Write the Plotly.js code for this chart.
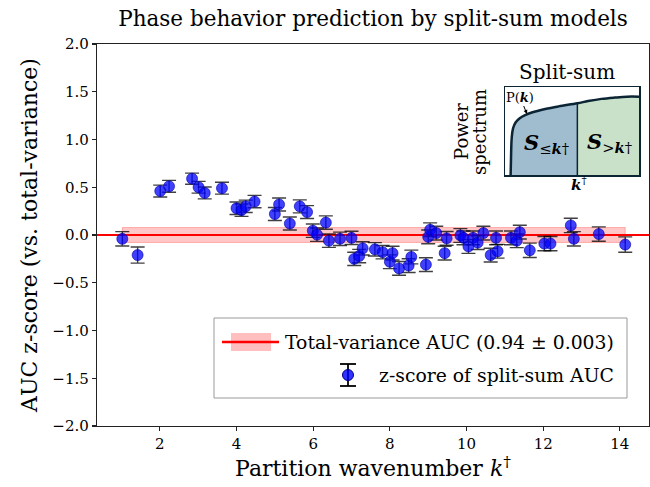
<!DOCTYPE html>
<html>
<head>
<meta charset="utf-8">
<script src="https://cdn.plot.ly/plotly-3.0.1.min.js"></script>
<style>html,body{margin:0;padding:0;background:#fff;}#chart{width:650px;height:487px;}</style>
</head>
<body>
<div id="chart"></div>
<script>
// ---- data ----
const partitionK = [1.02,1.42,2.01,2.24,2.84,3.01,3.17,3.62,4.00,4.13,4.24,4.47,5.00,5.11,5.39,5.65,5.84,5.99,6.10,6.33,6.41,6.70,7.00,7.07,7.20,7.29,7.61,7.81,8.00,8.07,8.24,8.49,8.56,8.94,9.00,9.05,9.21,9.43,9.48,9.84,9.92,10.05,10.17,10.29,10.44,10.63,10.77,10.81,11.16,11.31,11.39,11.65,12.03,12.19,12.72,12.80,13.45,14.14];
const zScore = [-0.04,-0.21,0.46,0.51,0.59,0.50,0.44,0.49,0.28,0.26,0.30,0.35,0.22,0.32,0.12,0.30,0.24,0.045,0.003,0.13,-0.06,-0.04,-0.03,-0.25,-0.22,-0.14,-0.15,-0.18,-0.28,-0.19,-0.35,-0.32,-0.23,-0.31,-0.02,0.055,0.02,-0.19,-0.035,-0.005,-0.03,-0.12,-0.03,-0.08,0.02,-0.21,-0.03,-0.17,-0.03,-0.06,0.03,-0.16,-0.09,-0.09,0.10,-0.04,0.01,-0.10];
const zErr = [0.075,0.084,0.062,0.062,0.058,0.062,0.062,0.062,0.065,0.065,0.065,0.065,0.068,0.068,0.068,0.068,0.068,0.07,0.07,0.07,0.07,0.07,0.07,0.07,0.07,0.07,0.07,0.07,0.072,0.072,0.072,0.072,0.072,0.072,0.072,0.072,0.072,0.072,0.072,0.072,0.072,0.072,0.072,0.072,0.072,0.072,0.072,0.072,0.072,0.072,0.072,0.075,0.075,0.075,0.075,0.075,0.075,0.08];
const baselineZ = 0.0;
const baselineBand = 0.078;
const xTicks = [2,4,6,8,10,12,14];
const yTicks = [-2.0,-1.5,-1.0,-0.5,0.0,0.5,1.0,1.5,2.0];
const legendLabels = ["Total-variance AUC (0.94 \u00b1 0.003)", "z-score of split-sum AUC"];
// inset schematic: power spectrum P(k) vs k
const insetK = [0.042,0.045,0.05,0.06,0.08,0.11,0.15,0.2,0.3,0.4,0.54,0.62,0.72,0.82,0.91,1.0];
const insetP = [0.0,0.2,0.42,0.53,0.6,0.645,0.68,0.71,0.75,0.78,0.815,0.84,0.865,0.88,0.89,0.89];
const insetSplit = 0.54;

// ---- layout helpers (pixel -> paper) ----
const W = 650, H = 487, L = 97, R = 649, T = 44, B = 426;
const px = x => (x - L) / (R - L);
const py = y => (B - y) / (B - T);
const serif = "DejaVu Serif, Liberation Serif, serif";
const xMin = Math.min(...partitionK), xMax = Math.max(...partitionK);

const splitIdx = insetK.indexOf(insetSplit);
const traces = [
  { x: [xMin, xMax, xMax, xMin, xMin],
    y: [baselineZ-baselineBand, baselineZ-baselineBand, baselineZ+baselineBand, baselineZ+baselineBand, baselineZ-baselineBand],
    mode: 'lines', fill: 'toself', fillcolor: 'rgba(255,0,0,0.22)',
    line: {color: 'rgba(255,0,0,0.25)', width: 1}, hoverinfo: 'skip', showlegend: false },
  { x: [0.36, 14.76], y: [baselineZ, baselineZ], mode: 'lines',
    line: {color: '#ff0000', width: 2}, showlegend: false },
  { x: partitionK, y: zScore, mode: 'markers', showlegend: false,
    marker: {size: 11, color: 'rgba(0,0,255,0.75)', line: {color: 'rgba(0,0,160,0.6)', width: 1}},
    error_y: {type: 'data', array: zErr, visible: true, color: 'rgba(0,0,0,0.75)', thickness: 1.4, width: 7} },
  // inset
  { x: insetK.slice(0, splitIdx+1), y: insetP.slice(0, splitIdx+1), xaxis: 'x2', yaxis: 'y2',
    mode: 'lines', fill: 'tozeroy', fillcolor: '#9fbdcf', line: {width: 0}, showlegend: false },
  { x: insetK.slice(splitIdx), y: insetP.slice(splitIdx), xaxis: 'x2', yaxis: 'y2',
    mode: 'lines', fill: 'tozeroy', fillcolor: '#c9e1c9', line: {width: 0}, showlegend: false },
  { x: [insetSplit, insetSplit], y: [0, insetP[splitIdx]], xaxis: 'x2', yaxis: 'y2',
    mode: 'lines', line: {color: '#0b2535', width: 1.5}, showlegend: false },
  { x: insetK, y: insetP, xaxis: 'x2', yaxis: 'y2', mode: 'lines',
    line: {color: '#0b2535', width: 2.5, shape: 'spline'}, showlegend: false }
];

const ink = '#222';
const shapes = [
  // legend box
  {type: 'rect', xref: 'paper', yref: 'paper', x0: px(214), x1: px(627), y0: py(398), y1: py(318),
   line: {color: '#999', width: 1}, fillcolor: 'rgba(255,255,255,0.9)', layer: 'above'},
  {type: 'rect', xref: 'paper', yref: 'paper', x0: px(231), x1: px(271), y0: py(351), y1: py(333),
   line: {width: 0}, fillcolor: 'rgba(255,0,0,0.25)', layer: 'above'},
  {type: 'line', xref: 'paper', yref: 'paper', x0: px(222), x1: px(279), y0: py(342), y1: py(342),
   line: {color: '#ff0000', width: 2.5}, layer: 'above'},
  {type: 'line', xref: 'paper', yref: 'paper', x0: px(348), x1: px(348), y0: py(364), y1: py(386),
   line: {color: '#000', width: 1.8}, layer: 'above'},
  {type: 'line', xref: 'paper', yref: 'paper', x0: px(340), x1: px(356), y0: py(364), y1: py(364),
   line: {color: '#000', width: 1.8}, layer: 'above'},
  {type: 'line', xref: 'paper', yref: 'paper', x0: px(340), x1: px(356), y0: py(386), y1: py(386),
   line: {color: '#000', width: 1.8}, layer: 'above'},
  {type: 'circle', xref: 'paper', yref: 'paper', x0: px(342.5), x1: px(353.5), y0: py(380.5), y1: py(369.5),
   line: {color: '#000080', width: 1}, fillcolor: 'rgba(0,0,255,0.8)', layer: 'above'}
];

const ann = (x, y, text, size, extra) => Object.assign({xref: 'paper', yref: 'paper', x: px(x), y: py(y), text: text,
  showarrow: false, font: {family: serif, size: size, color: '#000'}, xanchor: 'center', yanchor: 'middle'}, extra || {});

const annotations = [
  ann(283, 342, legendLabels[0], 18.8, {xanchor: 'left'}),
  ann(377, 375, legendLabels[1], 18.8, {xanchor: 'left'}),
  ann(567, 72, 'Split-sum', 20),
  ann(461, 132, 'Power', 18, {textangle: -90}),
  ann(479, 132, 'spectrum', 18, {textangle: -90}),
  ann(546, 143, '<b><i>S</i></b><sub>\u2264<b><i>k</i></b>\u2020</sub>', 21),
  ann(609, 142, '<b><i>S</i></b><sub>&gt;<b><i>k</i></b>\u2020</sub>', 21),
  ann(579, 184, '<b><i>k</i></b><sup>\u2020</sup>', 15),
  {xref: 'paper', yref: 'paper', x: px(527), y: py(114), ax: -7, ay: -17, text: 'P(<b><i>k</i></b>)',
   showarrow: true, arrowhead: 2, arrowsize: 0.8, arrowwidth: 1, arrowcolor: '#000',
   font: {family: serif, size: 13, color: '#000'}}
];

const axisCommon = {
  showgrid: false, zeroline: false, showline: true, mirror: true, linecolor: ink, linewidth: 1.2,
  ticks: 'outside', ticklen: 4, tickwidth: 1.2, tickcolor: ink,
  tickfont: {family: serif, size: 15, color: '#000'}
};

const layout = {
  width: W, height: H,
  margin: {l: L, r: W - R, t: T, b: H - B, pad: 0},
  paper_bgcolor: '#fff', plot_bgcolor: '#fff',
  showlegend: false,
  title: {text: 'Phase behavior prediction by split-sum models', font: {family: serif, size: 21.5, color: '#000'},
          x: 0.5, xref: 'paper', y: 1 - 18/H, yref: 'container', yanchor: 'middle'},
  xaxis: Object.assign({}, axisCommon, {range: [0.36, 14.76], tickvals: xTicks, ticktext: xTicks.map(String),
    title: {text: 'Partition wavenumber <i>k</i><sup>\u2020</sup>', font: {family: serif, size: 22, color: '#000'}, standoff: 6}}),
  yaxis: Object.assign({}, axisCommon, {range: [-2, 2], tickvals: yTicks, tickformat: '.1f',
    title: {text: 'AUC z-score (vs. total-variance)', font: {family: serif, size: 22, color: '#000'}, standoff: 8}}),
  xaxis2: {domain: [px(505), px(639)], anchor: 'y2', range: [0, 1], showgrid: false, zeroline: false,
    showticklabels: false, ticks: '', showline: true, mirror: true, linecolor: '#0b2535', linewidth: 1.5},
  yaxis2: {domain: [py(175), py(87)], anchor: 'x2', range: [0, 1], showgrid: false, zeroline: false,
    showticklabels: false, ticks: '', showline: true, mirror: true, linecolor: '#0b2535', linewidth: 1.5},
  shapes: shapes,
  annotations: annotations
};

Plotly.newPlot('chart', traces, layout, {displayModeBar: false, staticPlot: true});
</script>
</body>
</html>
